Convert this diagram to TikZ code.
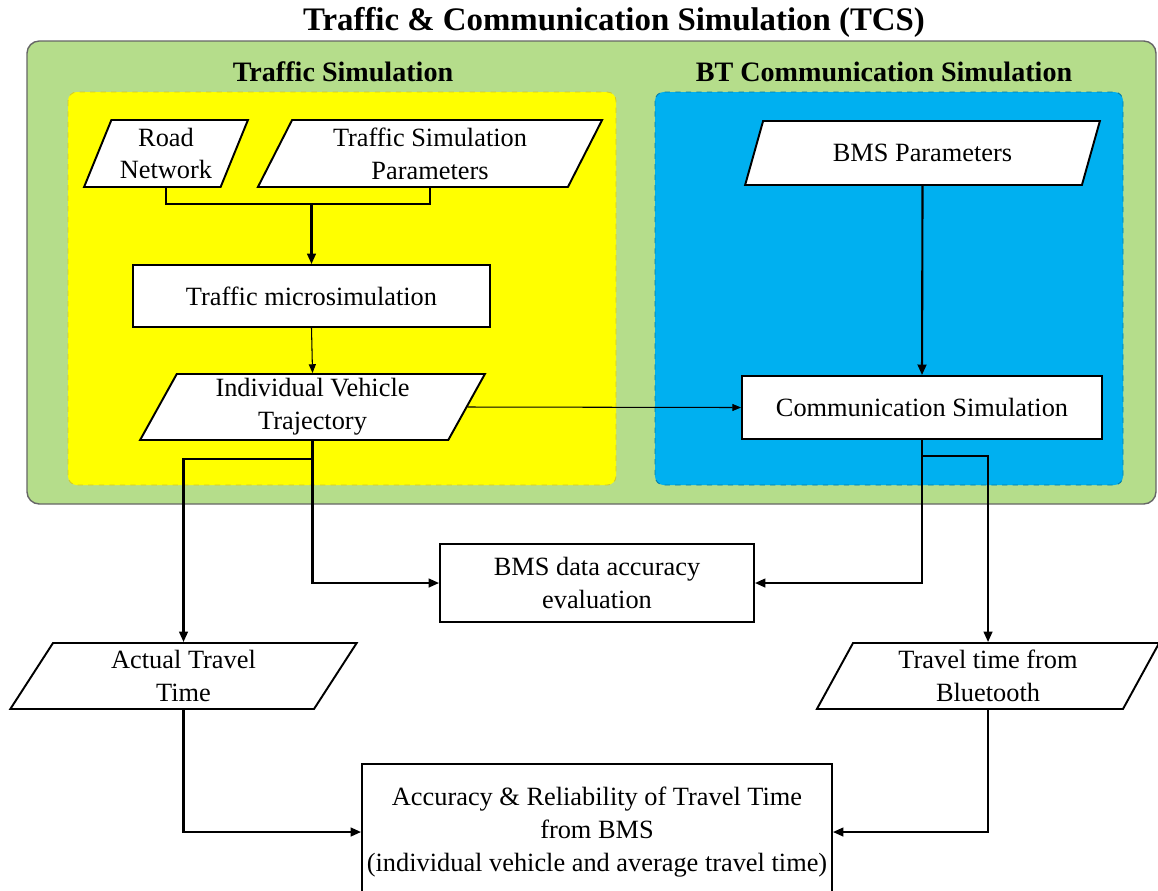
\documentclass[tikz,border=0pt]{standalone}
\usepackage{fontspec}
\setmainfont{Liberation Serif}
\usetikzlibrary{arrows.meta,calc,shapes.geometric}

\definecolor{tcsgreen}{HTML}{B5DD8B}
\definecolor{tsyellow}{HTML}{FFFF00}
\definecolor{btblue}{HTML}{00B0F0}

\tikzset{
	procbox/.style={draw, fill=white, line width=1.1pt, align=center, inner sep=2pt, font=\fontsize{15}{18.7}\selectfont},
	databox/.style={procbox, trapezium, trapezium left angle=67, trapezium right angle=113, trapezium stretches=true},
	link/.style={line width=1.2pt, -{Triangle[length=6pt,width=5pt]}},
	thinlink/.style={line width=0.6pt, -{Triangle[length=5pt,width=4pt]}},
	grouplabel/.style={font=\bfseries\fontsize{16}{19}\selectfont}
}

\begin{document}
\begin{tikzpicture}[x=0.02cm, y=-0.02cm]
		%%%%% START %%%%%
		\useasboundingbox (0,0) rectangle (1158,890);
		\clip (0,0) rectangle (1158,890);
		
		\node[font=\bfseries\fontsize{18.7}{22}\selectfont] (title) at (614,22) {Traffic \& Communication Simulation (TCS)};
		
		\draw[fill=tcsgreen, draw=black!60, line width=0.8pt, rounded corners=7pt] (27,41) rectangle (1156,504);
		\draw[fill=tsyellow, draw=yellow!80!black, dashed, line width=0.5pt, rounded corners=5pt] (68,92) rectangle (616,485);
		\draw[fill=btblue, draw=btblue!70!black, dashed, line width=0.5pt, rounded corners=5pt] (655,92) rectangle (1123,485);
		
		\node[grouplabel] (tslabel) at (343,72) {Traffic Simulation};
		\node[grouplabel] (btlabel) at (884,72) {BT Communication Simulation};
		
		\node[databox, minimum width=3.28cm, minimum height=1.34cm] (road) at (166,153.5) {Road\\Network};
		\node[databox, minimum width=6.9cm, minimum height=1.34cm] (tsp) at (430,153.5) {Traffic Simulation\\Parameters};
		\node[procbox, minimum width=7.14cm, minimum height=1.24cm] (micro) at (311.5,296) {Traffic microsimulation};
		\node[databox, minimum width=6.9cm, minimum height=1.32cm] (ivt) at (312.5,407) {Individual Vehicle\\Trajectory};
		
		\node[databox, minimum width=7.1cm, minimum height=1.28cm] (bmsp) at (922.5,153) {BMS Parameters};
		\node[procbox, minimum width=7.2cm, minimum height=1.26cm] (comm) at (922,407.5) {Communication Simulation};
		
		\node[procbox, minimum width=6.28cm, minimum height=1.56cm] (eval) at (597,583) {BMS data accuracy\\evaluation};
		\node[databox, minimum width=6.94cm, minimum height=1.32cm] (att) at (183.5,676) {Actual Travel\\Time};
		\node[databox, minimum width=6.86cm, minimum height=1.32cm] (ttb) at (988,676) {Travel time from\\Bluetooth};
		\node[procbox, minimum width=9.4cm, minimum height=2.72cm] (final) at (597,832) {Accuracy \& Reliability of Travel Time\\from BMS\\(individual vehicle and average travel time)};
		
		\coordinate (jn) at ($(road.south -| micro.north)+(0,16)$);
		\coordinate (jt) at ($(ivt.south)+(0,18)$);
		\coordinate (jb) at ($(comm.south)+(0,16)$);
		
		\draw[line width=1.2pt] (road.south) |- (jn) -| (tsp.south);
		\draw[link] (jn) -- (micro.north);
		\draw[thinlink] (micro.south) -- (ivt.north);
		\draw[thinlink] (ivt.east) -- (comm.west);
		\draw[link] (bmsp.south) -- (comm.north);
		
		\draw[link] (ivt.south) -- (jt) -| (att.north);
		\draw[link] (ivt.south) |- (eval.west);
		\draw[link] (comm.south) |- (eval.east);
		\draw[link] (comm.south) -- (jb) -| (ttb.north);
		
		\draw[link] (att.south) |- (final.west);
		\draw[link] (ttb.south) |- (final.east);
		
		%%%%% END %%%%%
\end{tikzpicture}
\end{document}
